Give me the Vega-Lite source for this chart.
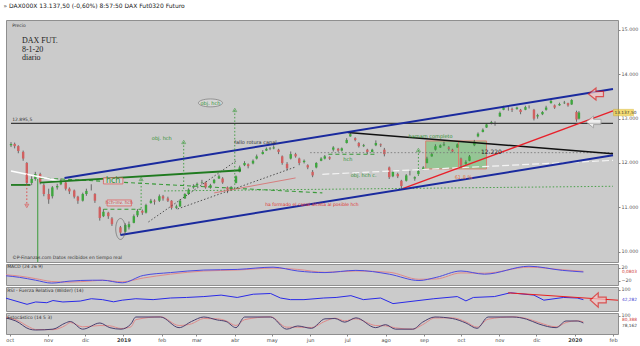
{
"$schema":"https://vega.github.io/schema/vega-lite/v6.json",
"background":"#ffffff",
"padding":{"left":3,"top":2,"right":0,"bottom":0},
"spacing":0,
"title":{"text":"»  DAX000X     13.137,50 (-0,60%)     8:57:50 DAX Fut0320 Futuro","anchor":"start","fontSize":6,"fontWeight":"normal","color":"#222222","offset":11,"font":"DejaVu Sans"},
"config":{
 "font":"DejaVu Sans",
 "view":{"fill":"#cbcbcb","stroke":"#8f8f8f"},
 "locale":{"number":{"decimal":",","thousands":".","grouping":[3],"currency":["","€"]}},
 "axis":{"labelFontSize":4.8,"labelColor":"#555555","tickColor":"#888888","tickSize":2,"labelPadding":1,"domain":false,"grid":false,"title":null,"labelFont":"DejaVu Sans"}
},
"datasets":{
"px":[
{"d":"2018-09-28","o":12400,"h":12470,"l":12360,"c":12430},
{"d":"2018-10-01","o":12430,"h":12460,"l":12330,"c":12380},
{"d":"2018-10-04","o":12380,"h":12400,"l":12220,"c":12270},
{"d":"2018-10-08","o":12250,"h":12280,"l":12050,"c":12100},
{"d":"2018-10-11","o":12000,"h":12020,"l":11520,"c":11550},
{"d":"2018-10-15","o":11550,"h":11700,"l":11500,"c":11640},
{"d":"2018-10-18","o":11640,"h":11800,"l":11600,"c":11750},
{"d":"2018-10-22","o":11750,"h":11780,"l":11520,"c":11560},
{"d":"2018-10-25","o":11500,"h":11540,"l":11250,"c":11300},
{"d":"2018-10-29","o":11300,"h":11420,"l":11080,"c":11180},
{"d":"2018-11-01","o":11250,"h":11480,"l":11200,"c":11450},
{"d":"2018-11-05","o":11450,"h":11530,"l":11400,"c":11480},
{"d":"2018-11-08","o":11520,"h":11650,"l":11500,"c":11600},
{"d":"2018-11-12","o":11560,"h":11580,"l":11380,"c":11420},
{"d":"2018-11-15","o":11420,"h":11450,"l":11300,"c":11360},
{"d":"2018-11-19","o":11380,"h":11400,"l":11200,"c":11240},
{"d":"2018-11-22","o":11240,"h":11260,"l":11080,"c":11150},
{"d":"2018-11-26","o":11150,"h":11330,"l":11130,"c":11300},
{"d":"2018-11-29","o":11300,"h":11420,"l":11260,"c":11370},
{"d":"2018-12-03","o":11450,"h":11520,"l":11380,"c":11450},
{"d":"2018-12-06","o":11300,"h":11320,"l":11100,"c":11150},
{"d":"2018-12-10","o":11000,"h":11020,"l":10700,"c":10760},
{"d":"2018-12-13","o":10800,"h":10960,"l":10780,"c":10900},
{"d":"2018-12-17","o":10880,"h":10900,"l":10740,"c":10800},
{"d":"2018-12-20","o":10750,"h":10780,"l":10580,"c":10620},
{"d":"2018-12-27","o":10550,"h":10580,"l":10380,"c":10430},
{"d":"2018-12-31","o":10450,"h":10640,"l":10430,"c":10600},
{"d":"2019-01-03","o":10550,"h":10680,"l":10500,"c":10620},
{"d":"2019-01-07","o":10650,"h":10840,"l":10640,"c":10800},
{"d":"2019-01-10","o":10820,"h":10960,"l":10780,"c":10920},
{"d":"2019-01-14","o":10920,"h":10950,"l":10830,"c":10880},
{"d":"2019-01-17","o":10880,"h":11080,"l":10860,"c":11050},
{"d":"2019-01-21","o":11100,"h":11190,"l":11080,"c":11150},
{"d":"2019-01-24","o":11150,"h":11180,"l":11060,"c":11130},
{"d":"2019-01-28","o":11150,"h":11290,"l":11120,"c":11250},
{"d":"2019-01-31","o":11250,"h":11280,"l":11150,"c":11200},
{"d":"2019-02-04","o":11200,"h":11240,"l":11120,"c":11150},
{"d":"2019-02-07","o":11150,"h":11160,"l":10950,"c":10990},
{"d":"2019-02-11","o":10990,"h":11060,"l":10960,"c":11020},
{"d":"2019-02-14","o":11020,"h":11180,"l":11010,"c":11150},
{"d":"2019-02-18","o":11200,"h":11320,"l":11190,"c":11300},
{"d":"2019-02-21","o":11300,"h":11430,"l":11280,"c":11400},
{"d":"2019-02-25","o":11450,"h":11520,"l":11420,"c":11480},
{"d":"2019-02-28","o":11500,"h":11560,"l":11480,"c":11530},
{"d":"2019-03-04","o":11550,"h":11620,"l":11520,"c":11560},
{"d":"2019-03-07","o":11560,"h":11580,"l":11420,"c":11450},
{"d":"2019-03-11","o":11450,"h":11530,"l":11420,"c":11500},
{"d":"2019-03-14","o":11550,"h":11640,"l":11530,"c":11620},
{"d":"2019-03-18","o":11650,"h":11740,"l":11640,"c":11700},
{"d":"2019-03-21","o":11650,"h":11680,"l":11530,"c":11560},
{"d":"2019-03-25","o":11450,"h":11470,"l":11320,"c":11400},
{"d":"2019-03-28","o":11400,"h":11480,"l":11380,"c":11450},
{"d":"2019-04-01","o":11550,"h":11720,"l":11540,"c":11700},
{"d":"2019-04-04","o":11800,"h":11940,"l":11790,"c":11900},
{"d":"2019-04-08","o":11950,"h":12040,"l":11930,"c":12000},
{"d":"2019-04-11","o":11970,"h":11990,"l":11880,"c":11930},
{"d":"2019-04-15","o":11990,"h":12080,"l":11970,"c":12050},
{"d":"2019-04-18","o":12100,"h":12190,"l":12080,"c":12150},
{"d":"2019-04-23","o":12200,"h":12290,"l":12190,"c":12250},
{"d":"2019-04-26","o":12280,"h":12350,"l":12270,"c":12320},
{"d":"2019-04-29","o":12320,"h":12360,"l":12290,"c":12330},
{"d":"2019-05-02","o":12330,"h":12400,"l":12310,"c":12350},
{"d":"2019-05-06","o":12300,"h":12320,"l":12200,"c":12250},
{"d":"2019-05-09","o":12150,"h":12170,"l":11960,"c":12000},
{"d":"2019-05-13","o":11980,"h":12020,"l":11840,"c":11880},
{"d":"2019-05-16","o":12100,"h":12260,"l":12080,"c":12200},
{"d":"2019-05-20","o":12200,"h":12230,"l":12120,"c":12150},
{"d":"2019-05-23","o":12100,"h":12120,"l":11950,"c":12000},
{"d":"2019-05-27","o":12020,"h":12080,"l":11990,"c":12050},
{"d":"2019-05-30","o":11950,"h":11970,"l":11860,"c":11900},
{"d":"2019-06-03","o":11800,"h":11840,"l":11680,"c":11720},
{"d":"2019-06-06","o":11900,"h":12020,"l":11880,"c":12000},
{"d":"2019-06-10","o":12050,"h":12130,"l":12040,"c":12100},
{"d":"2019-06-13","o":12100,"h":12180,"l":12080,"c":12150},
{"d":"2019-06-17","o":12130,"h":12150,"l":12070,"c":12100},
{"d":"2019-06-20","o":12300,"h":12380,"l":12260,"c":12350},
{"d":"2019-06-24","o":12320,"h":12340,"l":12250,"c":12280},
{"d":"2019-06-27","o":12280,"h":12350,"l":12260,"c":12330},
{"d":"2019-07-01","o":12450,"h":12560,"l":12440,"c":12520},
{"d":"2019-07-04","o":12600,"h":12690,"l":12590,"c":12650},
{"d":"2019-07-08","o":12560,"h":12580,"l":12490,"c":12520},
{"d":"2019-07-11","o":12450,"h":12470,"l":12350,"c":12380},
{"d":"2019-07-15","o":12380,"h":12430,"l":12360,"c":12400},
{"d":"2019-07-18","o":12300,"h":12320,"l":12200,"c":12250},
{"d":"2019-07-22","o":12250,"h":12320,"l":12240,"c":12300},
{"d":"2019-07-25","o":12400,"h":12510,"l":12380,"c":12450},
{"d":"2019-07-29","o":12420,"h":12440,"l":12360,"c":12400},
{"d":"2019-08-01","o":12300,"h":12340,"l":12150,"c":12200},
{"d":"2019-08-05","o":11900,"h":11920,"l":11640,"c":11680},
{"d":"2019-08-08","o":11700,"h":11840,"l":11680,"c":11800},
{"d":"2019-08-12","o":11750,"h":11780,"l":11660,"c":11700},
{"d":"2019-08-15","o":11600,"h":11620,"l":11400,"c":11480},
{"d":"2019-08-19","o":11600,"h":11750,"l":11580,"c":11720},
{"d":"2019-08-22","o":11750,"h":11820,"l":11720,"c":11750},
{"d":"2019-08-26","o":11650,"h":11700,"l":11600,"c":11680},
{"d":"2019-08-29","o":11750,"h":11860,"l":11740,"c":11820},
{"d":"2019-09-02","o":11850,"h":11930,"l":11840,"c":11900},
{"d":"2019-09-05","o":12000,"h":12140,"l":11990,"c":12100},
{"d":"2019-09-09","o":12150,"h":12240,"l":12140,"c":12200},
{"d":"2019-09-12","o":12300,"h":12420,"l":12280,"c":12380},
{"d":"2019-09-16","o":12350,"h":12420,"l":12340,"c":12400},
{"d":"2019-09-19","o":12400,"h":12480,"l":12380,"c":12420},
{"d":"2019-09-23","o":12350,"h":12380,"l":12280,"c":12320},
{"d":"2019-09-26","o":12300,"h":12320,"l":12240,"c":12260},
{"d":"2019-09-30","o":12350,"h":12440,"l":12340,"c":12420},
{"d":"2019-10-03","o":12100,"h":12120,"l":11900,"c":11950},
{"d":"2019-10-07","o":11980,"h":12060,"l":11960,"c":12020},
{"d":"2019-10-10","o":12050,"h":12180,"l":12040,"c":12150},
{"d":"2019-10-14","o":12400,"h":12520,"l":12380,"c":12480},
{"d":"2019-10-17","o":12600,"h":12690,"l":12580,"c":12660},
{"d":"2019-10-21","o":12700,"h":12780,"l":12690,"c":12750},
{"d":"2019-10-24","o":12800,"h":12900,"l":12790,"c":12870},
{"d":"2019-10-28","o":12880,"h":12950,"l":12870,"c":12920},
{"d":"2019-10-31","o":12900,"h":12940,"l":12840,"c":12900},
{"d":"2019-11-04","o":13050,"h":13160,"l":13040,"c":13130},
{"d":"2019-11-07","o":13200,"h":13290,"l":13190,"c":13250},
{"d":"2019-11-11","o":13220,"h":13260,"l":13180,"c":13220},
{"d":"2019-11-14","o":13220,"h":13250,"l":13150,"c":13200},
{"d":"2019-11-18","o":13220,"h":13270,"l":13200,"c":13250},
{"d":"2019-11-21","o":13200,"h":13220,"l":13100,"c":13150},
{"d":"2019-11-25","o":13200,"h":13290,"l":13190,"c":13260},
{"d":"2019-11-28","o":13260,"h":13300,"l":13230,"c":13260},
{"d":"2019-12-02","o":13200,"h":13220,"l":12960,"c":13000},
{"d":"2019-12-05","o":13050,"h":13110,"l":13000,"c":13080},
{"d":"2019-12-09","o":13100,"h":13170,"l":13080,"c":13150},
{"d":"2019-12-12","o":13200,"h":13290,"l":13180,"c":13250},
{"d":"2019-12-16","o":13350,"h":13450,"l":13340,"c":13400},
{"d":"2019-12-19","o":13300,"h":13320,"l":13220,"c":13250},
{"d":"2019-12-23","o":13300,"h":13360,"l":13290,"c":13330},
{"d":"2019-12-27","o":13350,"h":13400,"l":13330,"c":13360},
{"d":"2019-12-30","o":13350,"h":13360,"l":13270,"c":13300},
{"d":"2020-01-02","o":13320,"h":13440,"l":13310,"c":13420},
{"d":"2020-01-06","o":13150,"h":13180,"l":12930,"c":12980},
{"d":"2020-01-08","o":13000,"h":13170,"l":12980,"c":13137.5}
],
"ln":[
{"id":"bu","d":"2018-11-11","p":11660},{"id":"bu","d":"2020-02-05","p":13670},
{"id":"bl","d":"2018-12-27","p":10377},{"id":"bl","d":"2020-02-05","p":12175},
{"id":"kd","d":"2019-07-02","p":12685},{"id":"kd","d":"2020-02-05","p":12211},
{"id":"kh","d":"2018-09-28","p":12895},{"id":"kh","d":"2020-02-05","p":12895},
{"id":"rd","d":"2019-08-16","p":11421},{"id":"rd","d":"2020-02-05","p":13175},
{"id":"rt","d":"2019-03-14","p":11325},{"id":"rt","d":"2019-05-20","p":11663},
{"id":"g1","d":"2018-09-28","p":11505},{"id":"g1","d":"2018-10-14","p":11505},
{"id":"g2","d":"2018-10-22","p":11557},{"id":"g2","d":"2019-04-05","p":11836},
{"id":"w1","d":"2018-09-28","p":11820},{"id":"w1","d":"2018-11-07","p":11595},
{"id":"w2","d":"2019-06-11","p":11745},{"id":"w2","d":"2020-02-05","p":12060},
{"id":"gd1","d":"2018-10-22","p":11663},{"id":"gd1","d":"2019-06-11","p":11325},
{"id":"gd2","d":"2018-12-13","p":10957},{"id":"gd2","d":"2019-01-13","p":10957},
{"id":"gd3","d":"2019-06-16","p":12197},{"id":"gd3","d":"2019-07-25","p":12197},
{"id":"gdot","d":"2019-02-01","p":11370},{"id":"gdot","d":"2020-02-05","p":11475},
{"id":"kdot","d":"2019-06-01","p":12233},{"id":"kdot","d":"2020-02-05","p":12233},
{"id":"c1","d":"2019-01-19","p":10670},{"id":"c1","d":"2019-04-01","p":12046},
{"id":"c2","d":"2019-02-12","p":10963},{"id":"c2","d":"2019-05-20","p":11911}
],
"vr":[
{"id":"v1","d":"2019-01-13","p1":11640,"p2":10957},
{"id":"v2","d":"2019-02-17","p1":12475,"p2":11370},
{"id":"v3","d":"2019-03-31","p1":13197,"p2":11370},
{"id":"v4","d":"2019-08-29","p1":12294,"p2":11708},
{"id":"vr","d":"2018-10-11","p1":11753,"p2":11031},
{"id":"vg","d":"2018-10-20","p1":11640,"p2":9767}
],
"tri":[
{"id":"up","d":"2019-01-13","p":11640},
{"id":"up","d":"2019-02-17","p":12475},
{"id":"up","d":"2019-03-31","p":13197},
{"id":"up","d":"2019-08-29","p":12294},
{"id":"down","d":"2018-10-11","p":11031}
],
"gbox":[
{"d1":"2019-09-04","d2":"2019-10-01","p1":11866,"p2":12497},
{"d1":"2019-10-01","d2":"2019-10-24","p1":11866,"p2":12497}
],
"hbox":[
{"d1":"2018-12-13","d2":"2018-12-29","p1":11527,"p2":11663},
{"d1":"2018-12-16","d2":"2019-01-05","p1":11031,"p2":11166}
],
"el":[
{"id":"e1","d":"2019-03-11","p":13355},
{"id":"e2","d":"2018-12-27","p":10512}
],
"ar":[
{"id":"a1","d":"2020-01-22","p":13558},
{"id":"a2","d":"2020-01-20","p":12926}
],
"tag":[{"d":"2020-02-05","p":13137.5,"t":"13.137,50"}],
"notes":[
{"k":"big","d":"2018-10-07","p":14753,"t":"DAX FUT."},
{"k":"big","d":"2018-10-07","p":14550,"t":"8-1-20"},
{"k":"big","d":"2018-10-07","p":14370,"t":"diario"},
{"k":"tiny","d":"2018-09-29","p":15092,"t":"Precio"},
{"k":"tiny","d":"2018-09-29","p":12975,"t":"12.895,5"},
{"k":"tiny","d":"2018-09-29","p":9850,"t":"©P-Finanzas.com  Datos recibidos en tiempo real"},
{"k":"greenc","d":"2019-03-11","p":13355,"t":"obj. hch"},
{"k":"greenc","d":"2019-01-30","p":12565,"t":"obj. hch"},
{"k":"darkc","d":"2019-04-17","p":12475,"t":"fallo rotura canal"},
{"k":"hch","d":"2018-12-21","p":11595,"t":"hch"},
{"k":"redc","d":"2018-12-26","p":11099,"t":"hch-inv. hch"},
{"k":"red","d":"2019-04-25","p":11054,"t":"ha formado el canal alcista al posible hch"},
{"k":"greenc","d":"2019-07-02","p":12091,"t":"hch"},
{"k":"greenc","d":"2019-07-15","p":11730,"t":"obj. hch c."},
{"k":"greenc","d":"2019-09-08","p":12610,"t":"hamam completo"},
{"k":"darkc6","d":"2019-10-28","p":12249,"t":"12.220"},
{"k":"orangec","d":"2019-10-05","p":11685,"t":"61.8 %"}
],
"macd":[
{"d":"2018-09-28","m":-5,"s":-2},{"d":"2018-10-09","m":-10,"s":-6},{"d":"2018-10-22","m":-19,"s":-14},
{"d":"2018-11-04","m":-28,"s":-23},{"d":"2018-11-18","m":-22,"s":-25},{"d":"2018-12-07","m":-19,"s":-21},
{"d":"2018-12-15","m":-19,"s":-19},{"d":"2018-12-31","m":-27,"s":-24},{"d":"2019-01-17","m":-4,"s":-12},
{"d":"2019-02-08","m":5,"s":0},{"d":"2019-03-07","m":13,"s":10},{"d":"2019-04-03","m":15,"s":13},
{"d":"2019-05-02","m":22,"s":19},{"d":"2019-05-22","m":10,"s":15},{"d":"2019-06-13","m":5,"s":6},
{"d":"2019-07-08","m":12,"s":10},{"d":"2019-08-04","m":0,"s":6},{"d":"2019-08-28","m":-20,"s":-16},
{"d":"2019-09-11","m":-10,"s":-15},{"d":"2019-10-01","m":10,"s":4},{"d":"2019-10-20","m":0,"s":3},
{"d":"2019-11-25","m":25,"s":22},{"d":"2019-12-22","m":12,"s":14},{"d":"2020-01-08","m":7,"s":9}
],
"rsi":[
{"d":"2018-09-28","r":52},{"d":"2018-10-02","r":44},{"d":"2018-10-15","r":18},{"d":"2018-10-22","r":31},
{"d":"2018-10-31","r":27},{"d":"2018-11-05","r":39},{"d":"2018-11-13","r":31},{"d":"2018-11-27","r":36},
{"d":"2018-12-06","r":49},{"d":"2018-12-15","r":44},{"d":"2018-12-24","r":32},{"d":"2018-12-31","r":41},
{"d":"2019-01-11","r":49},{"d":"2019-01-25","r":44},{"d":"2019-02-08","r":53},{"d":"2019-02-21","r":56},
{"d":"2019-03-07","r":61},{"d":"2019-03-21","r":69},{"d":"2019-04-03","r":56},{"d":"2019-04-16","r":74},
{"d":"2019-04-30","r":78},{"d":"2019-05-08","r":53},{"d":"2019-05-16","r":44},{"d":"2019-05-27","r":44},
{"d":"2019-06-12","r":53},{"d":"2019-06-22","r":56},{"d":"2019-07-04","r":66},{"d":"2019-07-14","r":44},
{"d":"2019-07-28","r":53},{"d":"2019-08-07","r":22},{"d":"2019-08-24","r":36},{"d":"2019-09-09","r":49},
{"d":"2019-09-28","r":61},{"d":"2019-10-05","r":37},{"d":"2019-10-11","r":56},{"d":"2019-10-28","r":61},
{"d":"2019-11-10","r":82},{"d":"2019-11-29","r":69},{"d":"2019-12-07","r":41},{"d":"2019-12-23","r":56},
{"d":"2020-01-03","r":53},{"d":"2020-01-08","r":44}
],
"rsiL":[{"d":"2019-11-08","r":81.6},{"d":"2020-02-05","r":40.8}],
"rsiA":[{"d":"2020-01-20","r":42}],
"sto":[
{"d":"2018-09-28","k":85,"s":88},{"d":"2018-10-06","k":67,"s":75},{"d":"2018-10-17","k":18,"s":30},
{"d":"2018-10-22","k":13,"s":16},{"d":"2018-11-05","k":18,"s":15},{"d":"2018-11-15","k":55,"s":40},
{"d":"2018-11-19","k":64,"s":58},{"d":"2018-11-29","k":18,"s":32},{"d":"2018-12-13","k":55,"s":40},
{"d":"2018-12-21","k":27,"s":38},{"d":"2018-12-30","k":18,"s":22},{"d":"2019-01-07","k":49,"s":32},
{"d":"2019-01-11","k":91,"s":75},{"d":"2019-01-31","k":91,"s":92},{"d":"2019-02-15","k":27,"s":40},
{"d":"2019-02-25","k":64,"s":50},{"d":"2019-03-07","k":91,"s":82},{"d":"2019-03-18","k":73,"s":80},
{"d":"2019-03-25","k":64,"s":68},{"d":"2019-04-02","k":27,"s":40},{"d":"2019-04-09","k":91,"s":75},
{"d":"2019-04-30","k":91,"s":92},{"d":"2019-05-13","k":18,"s":30},{"d":"2019-05-22","k":37,"s":30},
{"d":"2019-06-02","k":23,"s":28},{"d":"2019-06-13","k":80,"s":65},{"d":"2019-06-21","k":82,"s":84},
{"d":"2019-06-29","k":60,"s":68},{"d":"2019-07-08","k":86,"s":80},{"d":"2019-07-24","k":27,"s":40},
{"d":"2019-08-01","k":45,"s":38},{"d":"2019-08-09","k":18,"s":26},{"d":"2019-08-23","k":18,"s":18},
{"d":"2019-08-31","k":60,"s":45},{"d":"2019-09-10","k":91,"s":85},{"d":"2019-09-24","k":82,"s":86},
{"d":"2019-10-05","k":55,"s":62},{"d":"2019-10-14","k":23,"s":30},{"d":"2019-10-23","k":91,"s":78},
{"d":"2019-11-12","k":91,"s":92},{"d":"2019-11-23","k":78,"s":82},{"d":"2019-12-03","k":49,"s":58},
{"d":"2019-12-17","k":27,"s":32},{"d":"2019-12-25","k":67,"s":58},{"d":"2020-01-03","k":67,"s":68},
{"d":"2020-01-08","k":55,"s":62}
],
"plab":[
{"panel":"macd","d":"2018-09-29","v":23,"t":"MACD (24 26 9)"},
{"panel":"rsi","d":"2018-09-29","v":93,"t":"RSI - Fuerza Relativa (Wilder) (14)"},
{"panel":"sto","d":"2018-09-29","v":87,"t":"Estocástico (14 5 3)"}
],
"ptag":[
{"panel":"macd","d":"2020-02-05","v":6,"t":"0,0803"},
{"panel":"rsi","d":"2020-02-05","v":42,"t":"42,282"},
{"panel":"sto","d":"2020-02-05","v":72,"t":"80,388"},
{"panel":"sto2","d":"2020-02-05","v":40,"t":"78,162"}
]
},
"vconcat":[
{
 "width":612,"height":242,
 "encoding":{"x":{"field":"d","type":"temporal","scale":{"type":"utc","domain":["2018-09-28","2020-02-05"]},"axis":null}},
 "layer":[
  {"data":{"name":"gbox"},"mark":{"type":"rect","fill":"#8cc48c","fillOpacity":0.85,"stroke":"#d9826f","strokeWidth":1},
   "encoding":{"x":{"field":"d1","type":"temporal","scale":{"type":"utc","domain":["2018-09-28","2020-02-05"]},"axis":null},"x2":{"field":"d2"},
    "y":{"field":"p1","type":"quantitative","scale":{"domain":[9767,15225],"nice":false,"zero":false},"axis":{"orient":"right","values":[10000,10500,11000,11500,12000,12500,13000,13500,14000,14500,15000],"format":",d"}},"y2":{"field":"p2"}}},
  {"data":{"name":"px"},"mark":{"type":"rule","color":"#4f4f4f","strokeWidth":0.8},
   "encoding":{"y":{"field":"l","type":"quantitative","scale":{"domain":[9767,15225],"nice":false,"zero":false}},"y2":{"field":"h"}}},
  {"data":{"name":"px"},"mark":{"type":"bar","width":2.4},
   "encoding":{"y":{"field":"o","type":"quantitative","scale":{"domain":[9767,15225],"nice":false,"zero":false}},"y2":{"field":"c"},
    "color":{"condition":{"test":"datum.c>=datum.o","value":"#3ea63e"},"value":"#d06060"}}},
  {"data":{"name":"ln"},"transform":[{"filter":{"field":"id","oneOf":["gdot"]}}],"mark":{"type":"line","color":"#3a9a3a","strokeWidth":0.9,"strokeDash":[1.5,2]},
   "encoding":{"y":{"field":"p","type":"quantitative","scale":{"domain":[9767,15225],"nice":false,"zero":false}},"detail":{"field":"id"}}},
  {"data":{"name":"ln"},"transform":[{"filter":{"field":"id","oneOf":["kdot"]}}],"mark":{"type":"line","color":"#7a7a7a","strokeWidth":0.9,"strokeDash":[1.5,2]},
   "encoding":{"y":{"field":"p","type":"quantitative","scale":{"domain":[9767,15225],"nice":false,"zero":false}},"detail":{"field":"id"}}},
  {"data":{"name":"ln"},"transform":[{"filter":{"field":"id","oneOf":["c1","c2"]}}],"mark":{"type":"line","color":"#444444","strokeWidth":0.9,"strokeDash":[1.5,2]},
   "encoding":{"y":{"field":"p","type":"quantitative","scale":{"domain":[9767,15225],"nice":false,"zero":false}},"detail":{"field":"id"}}},
  {"data":{"name":"ln"},"transform":[{"filter":{"field":"id","oneOf":["gd1","gd2","gd3"]}}],"mark":{"type":"line","color":"#3a9a3a","strokeWidth":1.1,"strokeDash":[4,3]},
   "encoding":{"y":{"field":"p","type":"quantitative","scale":{"domain":[9767,15225],"nice":false,"zero":false}},"detail":{"field":"id"}}},
  {"data":{"name":"ln"},"transform":[{"filter":{"field":"id","oneOf":["w2"]}}],"mark":{"type":"line","color":"#f4f4f4","strokeWidth":1.2,"strokeDash":[7,3]},
   "encoding":{"y":{"field":"p","type":"quantitative","scale":{"domain":[9767,15225],"nice":false,"zero":false}},"detail":{"field":"id"}}},
  {"data":{"name":"ln"},"transform":[{"filter":{"field":"id","oneOf":["w1"]}}],"mark":{"type":"line","color":"#ffffff","strokeWidth":1.5},
   "encoding":{"y":{"field":"p","type":"quantitative","scale":{"domain":[9767,15225],"nice":false,"zero":false}},"detail":{"field":"id"}}},
  {"data":{"name":"ln"},"transform":[{"filter":{"field":"id","oneOf":["rt"]}}],"mark":{"type":"line","color":"#d86a6a","strokeWidth":0.8},
   "encoding":{"y":{"field":"p","type":"quantitative","scale":{"domain":[9767,15225],"nice":false,"zero":false}},"detail":{"field":"id"}}},
  {"data":{"name":"ln"},"transform":[{"filter":{"field":"id","oneOf":["g1","g2"]}}],"mark":{"type":"line","color":"#1f7a1f","strokeWidth":1.8},
   "encoding":{"y":{"field":"p","type":"quantitative","scale":{"domain":[9767,15225],"nice":false,"zero":false}},"detail":{"field":"id"}}},
  {"data":{"name":"ln"},"transform":[{"filter":{"field":"id","oneOf":["kh"]}}],"mark":{"type":"line","color":"#3a3a3a","strokeWidth":1.3},
   "encoding":{"y":{"field":"p","type":"quantitative","scale":{"domain":[9767,15225],"nice":false,"zero":false}},"detail":{"field":"id"}}},
  {"data":{"name":"ln"},"transform":[{"filter":{"field":"id","oneOf":["kd"]}}],"mark":{"type":"line","color":"#111111","strokeWidth":1.5},
   "encoding":{"y":{"field":"p","type":"quantitative","scale":{"domain":[9767,15225],"nice":false,"zero":false}},"detail":{"field":"id"}}},
  {"data":{"name":"ln"},"transform":[{"filter":{"field":"id","oneOf":["rd"]}}],"mark":{"type":"line","color":"#e8202a","strokeWidth":1.3},
   "encoding":{"y":{"field":"p","type":"quantitative","scale":{"domain":[9767,15225],"nice":false,"zero":false}},"detail":{"field":"id"}}},
  {"data":{"name":"ln"},"transform":[{"filter":{"field":"id","oneOf":["bu","bl"]}}],"mark":{"type":"line","color":"#1a2a9e","strokeWidth":2},
   "encoding":{"y":{"field":"p","type":"quantitative","scale":{"domain":[9767,15225],"nice":false,"zero":false}},"detail":{"field":"id"}}},
  {"data":{"name":"vr"},"transform":[{"filter":{"field":"id","oneOf":["v1","v2","v3","v4"]}}],"mark":{"type":"rule","color":"#3a9a3a","strokeWidth":0.9,"strokeDash":[1.5,2]},
   "encoding":{"y":{"field":"p1","type":"quantitative","scale":{"domain":[9767,15225],"nice":false,"zero":false}},"y2":{"field":"p2"}}},
  {"data":{"name":"vr"},"transform":[{"filter":{"field":"id","oneOf":["vr"]}}],"mark":{"type":"rule","color":"#e04040","strokeWidth":0.9,"strokeDash":[1.5,2]},
   "encoding":{"y":{"field":"p1","type":"quantitative","scale":{"domain":[9767,15225],"nice":false,"zero":false}},"y2":{"field":"p2"}}},
  {"data":{"name":"vr"},"transform":[{"filter":{"field":"id","oneOf":["vg"]}}],"mark":{"type":"rule","color":"#3a9a3a","strokeWidth":1},
   "encoding":{"y":{"field":"p1","type":"quantitative","scale":{"domain":[9767,15225],"nice":false,"zero":false}},"y2":{"field":"p2"}}},
  {"data":{"name":"tri"},"transform":[{"filter":{"field":"id","oneOf":["up"]}}],"mark":{"type":"point","shape":"triangle-up","filled":false,"stroke":"#3a9a3a","strokeWidth":0.8,"size":16},
   "encoding":{"y":{"field":"p","type":"quantitative","scale":{"domain":[9767,15225],"nice":false,"zero":false}}}},
  {"data":{"name":"tri"},"transform":[{"filter":{"field":"id","oneOf":["down"]}}],"mark":{"type":"point","shape":"triangle-down","filled":false,"stroke":"#e04040","strokeWidth":0.8,"size":16},
   "encoding":{"y":{"field":"p","type":"quantitative","scale":{"domain":[9767,15225],"nice":false,"zero":false}}}},
  {"data":{"name":"hbox"},"mark":{"type":"rect","fill":"#d2d2d2","stroke":"#e06060","strokeWidth":0.8},
   "encoding":{"x":{"field":"d1","type":"temporal","scale":{"type":"utc","domain":["2018-09-28","2020-02-05"]},"axis":null},"x2":{"field":"d2"},
    "y":{"field":"p1","type":"quantitative","scale":{"domain":[9767,15225],"nice":false,"zero":false}},"y2":{"field":"p2"}}},
  {"data":{"name":"el"},"transform":[{"filter":{"field":"id","oneOf":["e1"]}}],"mark":{"type":"point","shape":"M-1,0 A1,0.33 0 1,0 1,0 A1,0.33 0 1,0 -1,0 Z","filled":true,"fill":"#dcdcdc","stroke":"#666666","strokeWidth":0.8,"size":576},
   "encoding":{"y":{"field":"p","type":"quantitative","scale":{"domain":[9767,15225],"nice":false,"zero":false}}}},
  {"data":{"name":"el"},"transform":[{"filter":{"field":"id","oneOf":["e2"]}}],"mark":{"type":"point","shape":"M0,-1 A0.45,1 0 1,0 0,1 A0.45,1 0 1,0 0,-1 Z","filled":false,"stroke":"#555555","strokeWidth":0.8,"size":441},
   "encoding":{"y":{"field":"p","type":"quantitative","scale":{"domain":[9767,15225],"nice":false,"zero":false}}}},
  {"data":{"name":"notes"},"transform":[{"filter":{"field":"k","equal":"big"}}],"mark":{"type":"text","align":"left","baseline":"middle","font":"Liberation Serif","fontSize":8,"color":"#222222"},
   "encoding":{"y":{"field":"p","type":"quantitative","scale":{"domain":[9767,15225],"nice":false,"zero":false}},"text":{"field":"t"}}},
  {"data":{"name":"notes"},"transform":[{"filter":{"field":"k","equal":"tiny"}}],"mark":{"type":"text","align":"left","baseline":"middle","fontSize":4.5,"color":"#333333"},
   "encoding":{"y":{"field":"p","type":"quantitative","scale":{"domain":[9767,15225],"nice":false,"zero":false}},"text":{"field":"t"}}},
  {"data":{"name":"notes"},"transform":[{"filter":{"field":"k","equal":"greenc"}}],"mark":{"type":"text","align":"center","baseline":"middle","fontSize":5,"color":"#2f8f2f"},
   "encoding":{"y":{"field":"p","type":"quantitative","scale":{"domain":[9767,15225],"nice":false,"zero":false}},"text":{"field":"t"}}},
  {"data":{"name":"notes"},"transform":[{"filter":{"field":"k","equal":"darkc"}}],"mark":{"type":"text","align":"center","baseline":"middle","fontSize":5,"color":"#333333"},
   "encoding":{"y":{"field":"p","type":"quantitative","scale":{"domain":[9767,15225],"nice":false,"zero":false}},"text":{"field":"t"}}},
  {"data":{"name":"notes"},"transform":[{"filter":{"field":"k","equal":"hch"}}],"mark":{"type":"text","align":"center","baseline":"middle","fontSize":8,"color":"#2f8f2f"},
   "encoding":{"y":{"field":"p","type":"quantitative","scale":{"domain":[9767,15225],"nice":false,"zero":false}},"text":{"field":"t"}}},
  {"data":{"name":"notes"},"transform":[{"filter":{"field":"k","equal":"redc"}}],"mark":{"type":"text","align":"center","baseline":"middle","fontSize":4.5,"color":"#d04040"},
   "encoding":{"y":{"field":"p","type":"quantitative","scale":{"domain":[9767,15225],"nice":false,"zero":false}},"text":{"field":"t"}}},
  {"data":{"name":"notes"},"transform":[{"filter":{"field":"k","equal":"red"}}],"mark":{"type":"text","align":"left","baseline":"middle","fontSize":4.5,"color":"#e03030"},
   "encoding":{"y":{"field":"p","type":"quantitative","scale":{"domain":[9767,15225],"nice":false,"zero":false}},"text":{"field":"t"}}},
  {"data":{"name":"notes"},"transform":[{"filter":{"field":"k","equal":"darkc6"}}],"mark":{"type":"text","align":"center","baseline":"middle","fontSize":6,"color":"#2a2a2a"},
   "encoding":{"y":{"field":"p","type":"quantitative","scale":{"domain":[9767,15225],"nice":false,"zero":false}},"text":{"field":"t"}}},
  {"data":{"name":"notes"},"transform":[{"filter":{"field":"k","equal":"orangec"}}],"mark":{"type":"text","align":"center","baseline":"middle","fontSize":5,"color":"#e0703a"},
   "encoding":{"y":{"field":"p","type":"quantitative","scale":{"domain":[9767,15225],"nice":false,"zero":false}},"text":{"field":"t"}}},
  {"data":{"name":"ar"},"transform":[{"filter":{"field":"id","oneOf":["a1"]}}],"mark":{"type":"point","shape":"M1,-0.35 L0,-0.35 L0,-0.8 L-1,0 L0,0.8 L0,0.35 L1,0.35 Z","filled":true,"fill":"#f2c4c4","stroke":"#e02020","strokeWidth":1.2,"size":225},
   "encoding":{"y":{"field":"p","type":"quantitative","scale":{"domain":[9767,15225],"nice":false,"zero":false}}}},
  {"data":{"name":"ar"},"transform":[{"filter":{"field":"id","oneOf":["a2"]}}],"mark":{"type":"point","shape":"M1,-0.35 L0,-0.35 L0,-0.8 L-1,0 L0,0.8 L0,0.35 L1,0.35 Z","filled":true,"fill":"#ffffff","stroke":"#9a9a9a","strokeWidth":1,"size":225},
   "encoding":{"y":{"field":"p","type":"quantitative","scale":{"domain":[9767,15225],"nice":false,"zero":false}}}},
  {"data":{"name":"tag"},"mark":{"type":"point","shape":"M0.05,-0.32 L2.05,-0.32 L2.05,0.32 L0.05,0.32 Z","filled":true,"fill":"#f2d03a","stroke":"#c9a000","strokeWidth":0.5,"size":400},
   "encoding":{"y":{"field":"p","type":"quantitative","scale":{"domain":[9767,15225],"nice":false,"zero":false}}}},
  {"data":{"name":"tag"},"mark":{"type":"text","align":"left","baseline":"middle","fontSize":4.3,"dx":1.5,"color":"#333333"},
   "encoding":{"y":{"field":"p","type":"quantitative","scale":{"domain":[9767,15225],"nice":false,"zero":false}},"text":{"field":"t"}}}
 ]
},
{
 "width":612,"height":21,
 "encoding":{"x":{"field":"d","type":"temporal","scale":{"type":"utc","domain":["2018-09-28","2020-02-05"]},"axis":null}},
 "layer":[
  {"data":{"name":"macd"},"mark":{"type":"line","color":"#e08a8a","strokeWidth":1,"interpolate":"monotone"},
   "encoding":{"y":{"field":"s","type":"quantitative","scale":{"domain":[-34,32],"nice":false,"zero":false},"axis":{"orient":"right","values":[-20,20],"format":"d"}}}},
  {"data":{"name":"macd"},"mark":{"type":"line","color":"#4a4ae0","strokeWidth":1,"interpolate":"monotone"},
   "encoding":{"y":{"field":"m","type":"quantitative","scale":{"domain":[-34,32],"nice":false,"zero":false}}}},
  {"data":{"name":"plab"},"transform":[{"filter":{"field":"panel","equal":"macd"}}],"mark":{"type":"text","align":"left","baseline":"middle","fontSize":4.5,"color":"#333333"},
   "encoding":{"y":{"field":"v","type":"quantitative","scale":{"domain":[-34,32],"nice":false,"zero":false}},"text":{"field":"t"}}},
  {"data":{"name":"ptag"},"transform":[{"filter":{"field":"panel","equal":"macd"}}],"mark":{"type":"text","align":"left","baseline":"middle","fontSize":4.3,"dx":4,"color":"#d04040"},
   "encoding":{"y":{"field":"v","type":"quantitative","scale":{"domain":[-34,32],"nice":false,"zero":false}},"text":{"field":"t"}}}
 ]
},
{
 "width":612,"height":24,
 "encoding":{"x":{"field":"d","type":"temporal","scale":{"type":"utc","domain":["2018-09-28","2020-02-05"]},"axis":null}},
 "layer":[
  {"data":{"name":"rsi"},"mark":{"type":"line","color":"#2a2ae8","strokeWidth":1},
   "encoding":{"y":{"field":"r","type":"quantitative","scale":{"domain":[-19,114],"nice":false,"zero":false},"axis":{"orient":"right","values":[100],"format":"d"}}}},
  {"data":{"name":"rsiL"},"mark":{"type":"line","color":"#e82020","strokeWidth":1},
   "encoding":{"y":{"field":"r","type":"quantitative","scale":{"domain":[-19,114],"nice":false,"zero":false}}}},
  {"data":{"name":"rsiA"},"mark":{"type":"point","shape":"M1,-0.35 L0,-0.35 L0,-0.9 L-1,0 L0,0.9 L0,0.35 L1,0.35 Z","filled":true,"fill":"#f2c4c4","stroke":"#e02020","strokeWidth":1.2,"size":256},
   "encoding":{"y":{"field":"r","type":"quantitative","scale":{"domain":[-19,114],"nice":false,"zero":false}}}},
  {"data":{"name":"plab"},"transform":[{"filter":{"field":"panel","equal":"rsi"}}],"mark":{"type":"text","align":"left","baseline":"middle","fontSize":4.5,"color":"#333333"},
   "encoding":{"y":{"field":"v","type":"quantitative","scale":{"domain":[-19,114],"nice":false,"zero":false}},"text":{"field":"t"}}},
  {"data":{"name":"ptag"},"transform":[{"filter":{"field":"panel","equal":"rsi"}}],"mark":{"type":"text","align":"left","baseline":"middle","fontSize":4.3,"dx":4,"color":"#3a3ad0"},
   "encoding":{"y":{"field":"v","type":"quantitative","scale":{"domain":[-19,114],"nice":false,"zero":false}},"text":{"field":"t"}}}
 ]
},
{
 "width":612,"height":21,
 "encoding":{"x":{"field":"d","type":"temporal","scale":{"type":"utc","domain":["2018-09-28","2020-02-05"]},
   "axis":{"orient":"bottom","tickCount":{"interval":"month","step":1},"labelOverlap":false,"labelFontSize":5,"labelColor":"#444444","tickSize":2,"labelPadding":1,
    "labelExpr":"utcmonth(datum.value)==0 ? utcFormat(datum.value,'%Y') : ['ene','feb','mar','abr','may','jun','jul','ago','sep','oct','nov','dic'][utcmonth(datum.value)]",
    "labelFontWeight":{"condition":{"test":"utcmonth(datum.value)==0","value":"bold"},"value":"normal"}}}},
 "layer":[
  {"data":{"name":"sto"},"mark":{"type":"line","color":"#e08a8a","strokeWidth":1,"interpolate":"monotone"},
   "encoding":{"y":{"field":"s","type":"quantitative","scale":{"domain":[-11,115],"nice":false,"zero":false},"axis":{"orient":"right","values":[100],"format":"d"}}}},
  {"data":{"name":"sto"},"mark":{"type":"line","color":"#4a3f70","strokeWidth":1,"interpolate":"monotone"},
   "encoding":{"y":{"field":"k","type":"quantitative","scale":{"domain":[-11,115],"nice":false,"zero":false}}}},
  {"data":{"name":"plab"},"transform":[{"filter":{"field":"panel","equal":"sto"}}],"mark":{"type":"text","align":"left","baseline":"middle","fontSize":4.5,"color":"#333333"},
   "encoding":{"y":{"field":"v","type":"quantitative","scale":{"domain":[-11,115],"nice":false,"zero":false}},"text":{"field":"t"}}},
  {"data":{"name":"ptag"},"transform":[{"filter":{"field":"panel","equal":"sto"}}],"mark":{"type":"text","align":"left","baseline":"middle","fontSize":4.3,"dx":4,"color":"#d04040"},
   "encoding":{"y":{"field":"v","type":"quantitative","scale":{"domain":[-11,115],"nice":false,"zero":false}},"text":{"field":"t"}}},
  {"data":{"name":"ptag"},"transform":[{"filter":{"field":"panel","equal":"sto2"}}],"mark":{"type":"text","align":"left","baseline":"middle","fontSize":4.3,"dx":4,"color":"#444444"},
   "encoding":{"y":{"field":"v","type":"quantitative","scale":{"domain":[-11,115],"nice":false,"zero":false}},"text":{"field":"t"}}}
 ]
}
]
}
